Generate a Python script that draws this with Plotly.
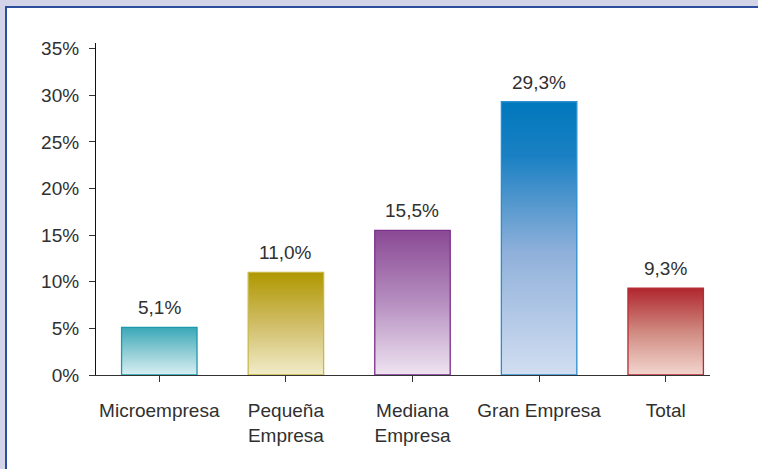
import plotly.graph_objects as go

categories = ["Microempresa", "Pequeña<br>Empresa", "Mediana<br>Empresa", "Gran Empresa", "Total"]
values = [5.1, 11.0, 15.5, 29.3, 9.3]
value_labels = ["5,1%", "11,0%", "15,5%", "29,3%", "9,3%"]
y_ticks = [0, 5, 10, 15, 20, 25, 30, 35]
y_tick_labels = ["0%", "5%", "10%", "15%", "20%", "25%", "30%", "35%"]

# styles
bar_scales = [
    [[0, "#d8eff2"], [0.5, "#8dcbd4"], [1, "#3aa8b8"]],
    [[0, "#f1ecc9"], [0.5, "#d0bd66"], [1, "#b09800"]],
    [[0, "#efe4f1"], [0.5, "#b68fc0"], [1, "#8a4994"]],
    [[0, "#d2def1"], [0.45, "#8fb0da"], [0.8, "#1a80c3"], [1, "#0078bd"]],
    [[0, "#f2d6cf"], [0.5, "#d08a80"], [1, "#b0262f"]],
]
line_colors = ["#1f9aaa", "#c9b74a", "#7c2f8c", "#2a8fd0", "#b52c35"]
half_w = 0.298

W, H = 758, 469
L, R, T, B = 96, 48, 43, 94
TXT = "#303030"
FS = 19

fig = go.Figure()
for i, (v, cs, lc) in enumerate(zip(values, bar_scales, line_colors)):
    fig.add_trace(go.Scatter(
        x=[i - half_w, i + half_w, i + half_w, i - half_w, i - half_w],
        y=[0, 0, v, v, 0],
        mode="lines", fill="toself",
        fillgradient=dict(type="vertical", colorscale=cs),
        line=dict(color=lc, width=1.3),
        hoverinfo="skip", showlegend=False,
    ))

for i, (v, t) in enumerate(zip(values, value_labels)):
    fig.add_annotation(x=i, y=v, text=t, showarrow=False, yanchor="bottom",
                       yshift=7, font=dict(size=FS, color=TXT))

def px_x(p):
    return (p - L) / (W - L - R)

def px_y(p):
    return (H - B - p) / (H - T - B)

shapes = [
    dict(type="rect", xref="paper", yref="paper", x0=px_x(0), x1=px_x(W), y0=px_y(0), y1=px_y(6),
         fillcolor="#d4d4e8", line=dict(width=0), layer="above"),
    dict(type="rect", xref="paper", yref="paper", x0=px_x(0), x1=px_x(5), y0=px_y(0), y1=px_y(H),
         fillcolor="#d4d4e8", line=dict(width=0), layer="above"),
    dict(type="line", xref="paper", yref="paper", x0=px_x(5), x1=px_x(W), y0=px_y(7), y1=px_y(7),
         line=dict(color="#2c4c9c", width=2)),
    dict(type="line", xref="paper", yref="paper", x0=px_x(6), x1=px_x(6), y0=px_y(6), y1=px_y(H),
         line=dict(color="#2c4c9c", width=2)),
]

fig.update_layout(
    width=W, height=H,
    margin=dict(l=L, r=R, t=T, b=B),
    paper_bgcolor="white", plot_bgcolor="white",
    font=dict(family="Liberation Sans, Arial, sans-serif", size=FS, color=TXT),
    shapes=shapes,
    xaxis=dict(range=[-0.5, 4.35], tickvals=list(range(len(categories))), ticktext=categories,
               showline=True, linecolor="#333", linewidth=1.2, ticks="outside", ticklen=6,
               tickcolor="#333", showgrid=False, zeroline=False, ticklabelstandoff=12,
               tickfont=dict(size=FS, color=TXT)),
    yaxis=dict(range=[0, 35.6], tickvals=y_ticks, ticktext=y_tick_labels,
               showline=True, linecolor="#111", linewidth=1.2, ticks="outside", ticklen=6,
               tickcolor="#333", showgrid=False, zeroline=False, ticklabelstandoff=6,
               tickfont=dict(size=FS, color=TXT)),
)

fig.write_html("out.html", config={"displayModeBar": False},
               post_script="document.body.style.margin='0';document.body.style.overflow='hidden';")
